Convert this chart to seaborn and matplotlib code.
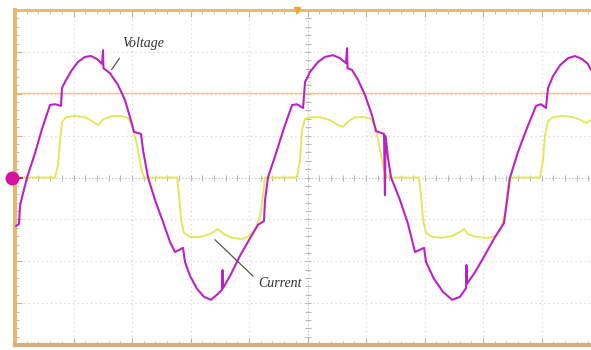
import numpy as np
import pandas as pd
import matplotlib
matplotlib.use("Agg")
import matplotlib.pyplot as plt
import seaborn as sns

# ---- data (time in ms, 5 ms/div; amplitude in divisions) ----
volt_t = [0.09, 0.34, 0.43, 1.03, 1.71, 2.31, 2.99, 3.42, 3.93, 4.02, 4.36, 4.87, 5.38, 5.98,
          6.50, 7.01, 7.44, 7.52, 7.56, 8.12, 8.80, 9.40, 9.83, 10.17, 10.77, 10.94, 11.37,
          11.97, 12.65, 13.25, 13.68, 14.36, 14.53, 14.96, 15.56, 16.15, 16.75, 17.26, 17.69,
          17.74, 17.78, 18.38, 19.23, 20.09, 20.77, 21.28, 21.37, 21.62, 22.31, 22.99, 23.68,
          24.10, 24.62, 24.79, 25.21, 25.90, 26.50, 27.18, 27.78, 28.29, 28.38, 28.42, 28.80,
          29.32, 29.91, 30.51, 30.85, 31.54, 31.62, 31.67, 31.88, 32.14, 32.91, 33.59, 34.19,
          34.96, 35.13, 35.81, 36.58, 37.35, 38.03, 38.55, 38.59, 38.63, 39.32, 40.17, 41.03,
          41.79, 42.05, 42.31, 42.99, 43.76, 44.53, 44.96, 45.38, 45.56, 45.98, 46.58, 47.26,
          47.86, 48.46, 48.97, 49.23]
volt_v = [-1.16, -1.11, -0.66, 0.00, 0.58, 1.16, 1.73, 1.75, 1.71, 2.14, 2.33, 2.57, 2.76, 2.88,
          2.90, 2.83, 2.71, 3.04, 2.61, 2.49, 2.21, 1.85, 1.44, 1.09, 1.04, 0.66, 0.00,
          -0.54, -1.06, -1.54, -1.78, -1.68, -2.02, -2.35, -2.66, -2.85, -2.92, -2.80, -2.68,
          -2.21, -2.64, -2.35, -1.87, -1.45, -1.13, -1.04, -0.54, 0.00, 0.58, 1.18, 1.73,
          1.75, 1.66, 2.28, 2.52, 2.76, 2.88, 2.92, 2.85, 2.73, 3.09, 2.61, 2.57,
          2.33, 1.97, 1.49, 1.11, 1.04, -0.42, 0.99, 0.47, 0.00, -0.54, -1.11, -1.78,
          -1.68, -2.02, -2.42, -2.73, -2.92, -2.85, -2.64, -2.09, -2.54, -2.26, -1.85, -1.42,
          -1.09, -0.56, 0.00, 0.61, 1.18, 1.71, 1.75, 1.66, 2.14, 2.42, 2.68, 2.85,
          2.90, 2.83, 2.71, 2.57]

curr_t = [0.0, 3.42, 3.68, 3.85, 4.02, 4.36, 5.13, 5.98, 6.58, 7.09, 7.61, 8.29, 9.15, 9.66,
          10.00, 10.43, 10.77, 11.03, 13.85, 14.02, 14.19, 14.44, 14.96, 15.81, 16.67, 17.35,
          17.86, 18.55, 19.40, 19.91, 20.51, 20.94, 21.20, 21.37, 24.10, 24.36, 24.53, 24.79,
          25.21, 26.07, 26.92, 27.61, 28.03, 28.55, 29.06, 29.91, 30.43, 30.85, 31.20, 31.54,
          31.79, 34.53, 34.70, 34.87, 35.13, 35.64, 36.50, 37.35, 38.03, 38.38, 38.72, 39.40,
          40.43, 41.11, 41.54, 41.88, 42.05, 42.22, 44.87, 45.13, 45.30, 45.56, 45.98, 46.84,
          47.69, 48.38, 48.80, 49.23]
curr_v = [0.0, 0.0, 0.30, 0.89, 1.32, 1.44, 1.47, 1.44, 1.35, 1.25, 1.40, 1.47, 1.47, 1.42,
          1.25, 0.78, 0.23, 0.0, 0.0, -0.42, -1.01, -1.32, -1.42, -1.42, -1.35, -1.23,
          -1.35, -1.44, -1.47, -1.42, -1.23, -0.94, -0.42, 0.0, 0.0, 0.42, 1.13, 1.40,
          1.44, 1.44, 1.37, 1.25, 1.21, 1.35, 1.44, 1.44, 1.40, 1.18, 0.66, 0.18,
          0.0, 0.0, -0.42, -1.01, -1.32, -1.42, -1.44, -1.40, -1.30, -1.23, -1.35, -1.42,
          -1.44, -1.40, -1.21, -0.85, -0.42, 0.0, 0.0, 0.42, 1.01, 1.35, 1.44, 1.47,
          1.44, 1.37, 1.30, 1.37]

trigger_level = 2.02
labels = ["Voltage", "Current"]

volt_df = pd.DataFrame({"t": volt_t, "v": volt_v})
curr_df = pd.DataFrame({"t": curr_t, "v": curr_v})

sns.set_style("white")
fig = plt.figure(figsize=(5.91, 3.5), dpi=100)
ax = fig.add_axes([15 / 591, 5 / 350, 576 / 591, 335 / 350])

XMAX = 49.23
ax.set_xlim(0, XMAX)
ax.set_ylim(-4, 4)

# grid
grid_col = "#d2d2d2"
for xv in np.arange(5, XMAX, 5):
    if abs(xv - 25) > 0.01:
        ax.axvline(xv, color=grid_col, lw=0.8, ls=(0, (1, 3)), zorder=0)
for yv in [-3, -2, -1, 1, 2, 3]:
    ax.axhline(yv, color=grid_col, lw=0.8, ls=(0, (1, 3)), zorder=0)
# centre axes with small ticks
ax.axhline(0, color="#b8b8b8", lw=0.8, ls=(0, (1, 2)), zorder=0)
ax.axvline(25, color="#b8b8b8", lw=0.8, ls=(0, (1, 2)), zorder=0)
xt = np.arange(1, XMAX, 1)
ax.plot(xt, np.zeros(len(xt)), ls="none", marker="|", ms=4, color="#b8b8b8", mew=0.8, zorder=0)
yt = np.arange(-3.8, 4, 0.2)
ax.plot(np.full(len(yt), 25.0), yt, ls="none", marker="_", ms=4, color="#b8b8b8", mew=0.8, zorder=0)

# trigger level line
ax.axhline(trigger_level, color="#f6c48a", lw=1.0, zorder=1)

# traces
sns.lineplot(data=curr_df, x="t", y="v", sort=False, estimator=None, ax=ax,
             color="#e2e85e", lw=1.4, zorder=3)
sns.lineplot(data=volt_df, x="t", y="v", sort=False, estimator=None, ax=ax,
             color="#bb22c6", lw=1.5, zorder=4)

# annotations
ax.annotate("", xy=(8.12, 2.52), xytext=(9.06, 2.90),
            arrowprops=dict(arrowstyle="-", color="#555555", lw=0.9), zorder=5)
ax.text(10.94, 3.19, labels[0], fontsize=10, family="Liberation Serif", style="italic",
        color="#333333", ha="center", va="center")
ax.annotate("", xy=(16.92, -1.44), xytext=(20.51, -2.40),
            arrowprops=dict(arrowstyle="-", color="#555555", lw=0.9), zorder=5)
ax.text(22.65, -2.52, labels[1], fontsize=10, family="Liberation Serif", style="italic",
        color="#333333", ha="center", va="center")

# channel marker & trigger marker
ax.plot([-0.26, 0.6], [0, 0], color="#d0189c", lw=1.5, clip_on=False, zorder=6)
ax.plot([-0.26], [0], marker="o", ms=9, color="#d8129e", clip_on=False, zorder=7)
ax.plot([24.1], [4.0], marker="v", ms=5, color="#f0a830", clip_on=False, zorder=7)

# frame
frame_col = "#e2b872"
for side in ["left", "top", "bottom"]:
    ax.spines[side].set_color(frame_col)
    ax.spines[side].set_visible(True)
ax.spines["left"].set_linewidth(3)
ax.spines["top"].set_linewidth(2)
ax.spines["bottom"].set_linewidth(3)
ax.spines["bottom"].set_color("#d2b080")
ax.spines["right"].set_visible(False)

ax.set_xticks(np.arange(0, XMAX, 5))
ax.set_xticks(np.arange(0, XMAX, 1), minor=True)
ax.set_yticks(np.arange(-4, 4.1, 1))
ax.set_yticks(np.arange(-4, 4.1, 0.2), minor=True)
ax.tick_params(which="both", direction="in", left=True, top=True, bottom=True, right=False,
               labelleft=False, labelbottom=False, color="#c8b090")
ax.tick_params(which="major", length=5, width=0.8)
ax.tick_params(which="minor", length=3, width=0.6)
ax.set_xlabel("")
ax.set_ylabel("")

fig.savefig("out.png", dpi=100, facecolor="white")
